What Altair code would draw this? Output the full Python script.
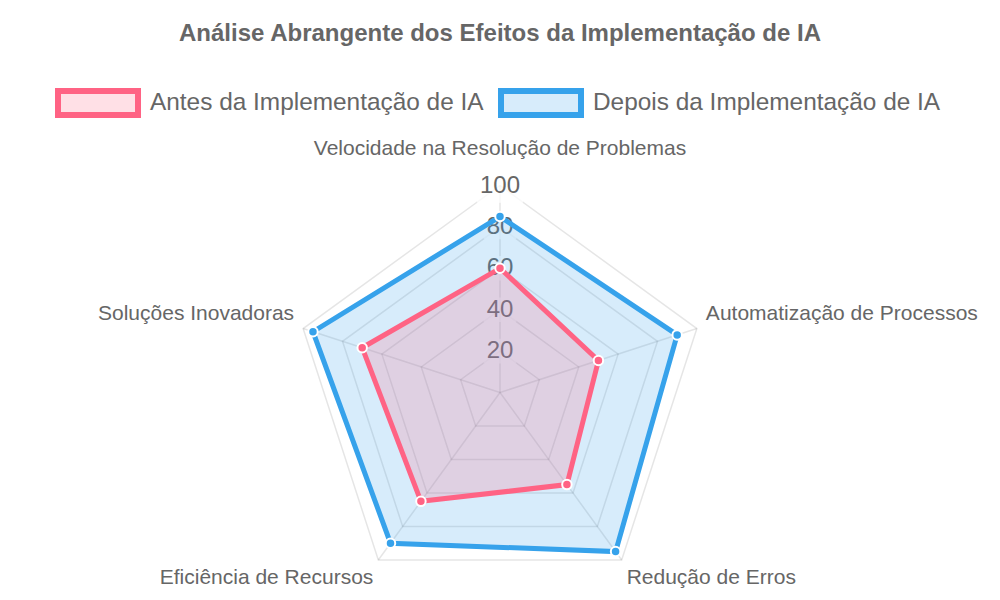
import altair as alt
import pandas as pd

# ---------------- data ----------------
categories = [
    "Velocidade na Resolução de Problemas",
    "Automatização de Processos",
    "Redução de Erros",
    "Eficiência de Recursos",
    "Soluções Inovadoras",
]
series_names = ["Antes da Implementação de IA", "Depois da Implementação de IA"]
antes = [60, 50, 55, 65, 70]
depois = [85, 90, 95, 90, 95]
tick_values = [20, 40, 60, 80, 100]
tick_labels = ["20", "40", "60", "80", "100"]
r_max = 100

title_text = "Análise Abrangente dos Efeitos da Implementação de IA"

# ---------------- style ----------------
FONT = "Liberation Sans"
GREY = "#666666"
RED = "rgb(255, 99, 132)"
BLUE = "rgb(54, 162, 235)"
RED_FILL = "rgba(255, 99, 132, 0.2)"
BLUE_FILL = "rgba(54, 162, 235, 0.2)"
GRID = "rgba(0, 0, 0, 0.1)"

W, H = 984, 463
PAD_TOP = 117
PX = 2.07          # pixels per value unit
CX = 492           # centre in view coords
CY = 267.5

N = len(categories)

# ---------------- tables ----------------
rows = []
# drawn in reverse so the first series ends up on top
for name, vals in reversed(list(zip(series_names, [antes, depois]))):
    for i in range(N + 1):
        rows.append({"serie": name, "idx": i, "cat": categories[i % N], "valor": vals[i % N]})
series_df = pd.DataFrame(rows)
points_df = series_df[series_df["idx"] < N]

grid_df = pd.DataFrame(
    [{"nivel": lv, "idx": i, "valor": lv} for lv in tick_values for i in range(N + 1)]
)
spokes_df = pd.DataFrame(
    [{"eixo": i, "idx": i, "valor": v} for i in range(N) for v in (0, r_max)]
)
ticks_df = pd.DataFrame({"idx": [0] * len(tick_values), "valor": tick_values, "label": tick_labels})
labels_df = pd.DataFrame({"idx": list(range(N)), "cat": categories, "valor": [r_max] * N})
title_df = pd.DataFrame({"t": [title_text]})

# ---------------- scales ----------------
xs = alt.Scale(domain=[-CX / PX, (W - CX) / PX], nice=False, zero=False)
ys = alt.Scale(domain=[-(H - CY) / PX, CY / PX], nice=False, zero=False)


def polar(ch):
    return ch.transform_calculate(
        px=f"datum.valor * sin(datum.idx * 2 * PI / {N})",
        py=f"datum.valor * cos(datum.idx * 2 * PI / {N})",
    )


X = alt.X("px:Q", scale=xs, axis=None)
Y = alt.Y("py:Q", scale=ys, axis=None)

grid = polar(alt.Chart(grid_df)).mark_line(stroke=GRID, strokeWidth=1.5).encode(
    x=X, y=Y, detail="nivel:N", order="idx:Q"
)
spokes = polar(alt.Chart(spokes_df)).mark_line(stroke=GRID, strokeWidth=1.5).encode(
    x=X, y=Y, detail="eixo:N", order="valor:Q"
)

backdrop = polar(alt.Chart(ticks_df)).transform_calculate(
    bsize="pow(length(datum.label) * 13.4 + 6, 2)"
).mark_point(
    shape="M-1,-0.75L1,-0.75L1,0.75L-1,0.75Z",
    filled=True,
    fill="white",
    fillOpacity=0.75,
    strokeWidth=0,
).encode(x=X, y=Y, size=alt.Size("bsize:Q", scale=None, legend=None))

ticks = polar(alt.Chart(ticks_df)).mark_text(
    font=FONT, fontSize=24, color=GREY, align="center", baseline="middle"
).encode(x=X, y=Y, text="label:N")

label_layers = []
label_specs = [
    ([0], dict(align="center", dx=0, dy=-37)),
    ([1], dict(align="left", dx=9, dy=-15)),
    ([2], dict(align="left", dx=5, dy=18)),
    ([3], dict(align="right", dx=-5, dy=18)),
    ([4], dict(align="right", dx=-9, dy=-15)),
]
for idxs, opts in label_specs:
    label_layers.append(
        polar(alt.Chart(labels_df))
        .transform_filter(alt.FieldOneOfPredicate(field="idx", oneOf=idxs))
        .mark_text(font=FONT, fontSize=21, color=GREY, baseline="middle", **opts)
        .encode(x=X, y=Y, text="cat:N")
    )

title = alt.Chart(title_df).mark_text(
    font=FONT, fontSize=24, fontWeight="bold", color=GREY, align="center", baseline="middle"
).encode(text="t:N", x=alt.value(CX), y=alt.value(34 - 8 - PAD_TOP))

legend = alt.Legend(
    title=None,
    orient="none",
    direction="horizontal",
    legendX=47,
    legendY=-65,
    padding=0,
    symbolType="M-1,-0.3L1,-0.3L1,0.3L-1,0.3Z",
    symbolSize=6400,
    symbolStrokeWidth=6,
    labelFont=FONT,
    labelFontSize=24.4,
    labelColor=GREY,
    labelOffset=9,
    columnPadding=5,
    labelLimit=500,
)

areas = polar(alt.Chart(series_df)).mark_line(strokeWidth=5, strokeJoin="miter").encode(
    x=X,
    y=Y,
    order="idx:Q",
    stroke=alt.Stroke("serie:N", scale=alt.Scale(domain=series_names, range=[RED, BLUE]), legend=legend),
    fill=alt.Fill("serie:N", scale=alt.Scale(domain=series_names, range=[RED_FILL, BLUE_FILL]), legend=legend),
)

points = polar(alt.Chart(points_df)).mark_point(
    filled=True, size=90, stroke="white", strokeWidth=2, opacity=1
).encode(
    x=X,
    y=Y,
    color=alt.Color("serie:N", scale=alt.Scale(domain=series_names, range=[RED, BLUE]), legend=None),
)

chart = (
    alt.layer(grid, spokes, backdrop, ticks, *label_layers, areas, points, title)
    .properties(
        width=W,
        height=H,
        padding={"left": 0, "top": PAD_TOP, "right": 0, "bottom": 0},
        autosize=alt.AutoSizeParams(type="none"),
    )
    .configure_view(strokeWidth=0)
)

chart.save("out.html", embed_options={"renderer": "svg", "actions": False})
